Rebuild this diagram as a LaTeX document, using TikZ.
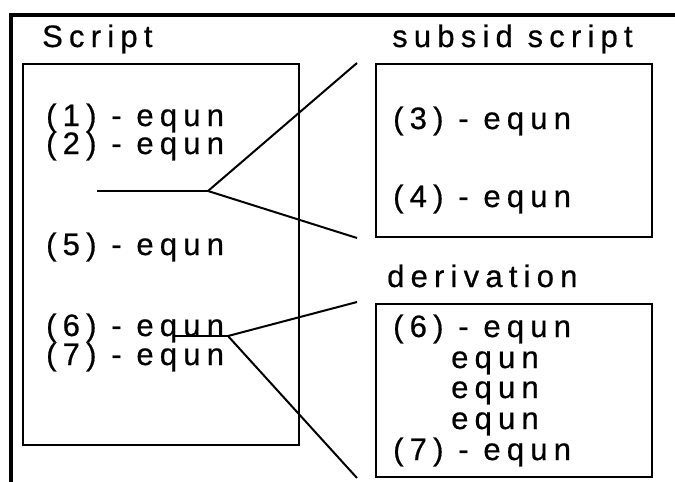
\documentclass[tikz,border=0pt]{standalone}
\usepackage{fontspec}
\newfontfamily\eqfont[LetterSpace=20,FakeBold=0.6]{Liberation Sans}
\usetikzlibrary{calc}
\tikzset{
  sbox/.style={draw, line width=2pt, inner sep=0pt, outer sep=0pt, anchor=north west,
               minimum width=#1},
  eqtxt/.style={anchor=base west, inner sep=0pt, font=\eqfont\fontsize{31}{33}\selectfont},
  link/.style={line width=2pt},
  frame/.style={line width=4pt},
}

\begin{document}
\begin{tikzpicture}[x=1pt,y=-1pt]
\useasboundingbox (0,0) rectangle (675,482);
% ---- outer frame
\coordinate (fbl) at (11,482);
\coordinate (ftl) at (11,14.5);
\coordinate (ftr) at (675,14.5);
\draw[frame] (fbl) -- (ftl) -- (ftr);
% ---- boxes
\node[sbox=276pt, minimum height=381pt] (scr) at (23,64) {};
\node[sbox=276pt, minimum height=173pt] (sub) at (376,64) {};
\node[sbox=276pt, minimum height=173pt] (der) at (376,304) {};
% ---- headings
\node[eqtxt] (hscr) at (42,47) {Script};
\node[eqtxt] (hsub) at (392,47) {subsid script};
\node[eqtxt] (hder) at (387,287) {derivation};
% ---- main script lines
\node[eqtxt] (e1) at (46,126) {(1) - equn};
\node[eqtxt] (e2) at (46,154) {(2) - equn};
\node[eqtxt] (e5) at (46,255) {(5) - equn};
\node[eqtxt] (e6) at (46,336) {(6) - equn};
\node[eqtxt] (e7) at (46,365) {(7) - equn};
% ---- subsidiary script lines
\node[eqtxt] (e3) at (393,129) {(3) - equn};
\node[eqtxt] (e4) at (393,207) {(4) - equn};
% ---- derivation lines
\node[eqtxt] (d6) at (393,337) {(6) - equn};
\foreach \n/\y in {da/368, db/398, dc/429}
  \node[eqtxt] (\n) at (451,\y) {equn};
\node[eqtxt] (d7) at (393,460) {(7) - equn};
% ---- fan from script to subsid script
\coordinate (s1) at (97,191);
\coordinate (j1) at (208,191);
\coordinate (t1) at (357,63);
\coordinate (b1) at (357,238);
% ---- fan from script to derivation
\coordinate (s2) at (173,336);
\coordinate (j2) at (228,336);
\coordinate (t2) at (357,302);
\coordinate (b2) at (357,478);
\foreach \i/\j in {s1/j1, j1/t1, j1/b1, s2/j2, j2/t2, j2/b2} \draw[link] (\i) -- (\j);
\end{tikzpicture}
\end{document}
